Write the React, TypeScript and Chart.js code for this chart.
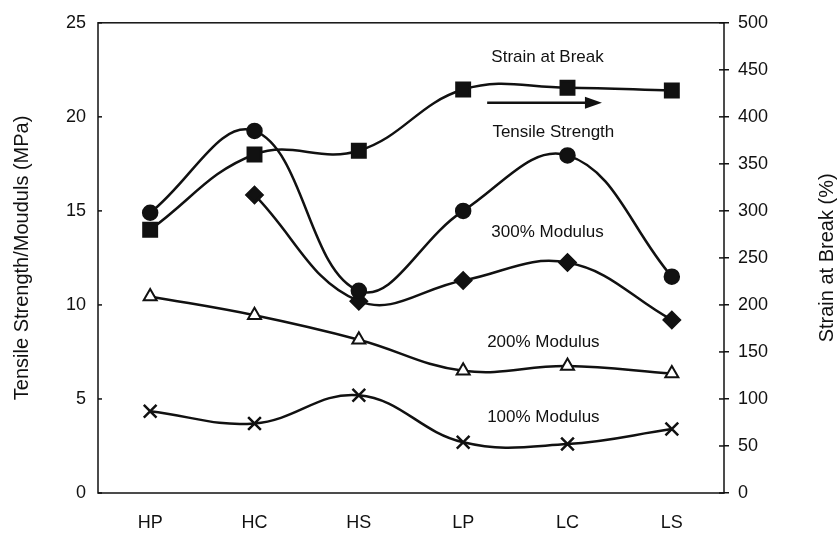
import React, { useEffect, useRef } from 'react';
import { Chart, registerables } from 'chart.js';

Chart.register(...registerables);

const categories = ['HP', 'HC', 'HS', 'LP', 'LC', 'LS'];
const tensileStrength = [14.9, 19.25, 10.75, 15.0, 17.95, 11.5];
const modulus300 = [null, 15.85, 10.2, 11.3, 12.25, 9.2];
const modulus200 = [10.45, 9.45, 8.15, 6.5, 6.75, 6.35];
const modulus100 = [4.35, 3.7, 5.2, 2.7, 2.6, 3.4];
const strainAtBreak = [280, 360, 364, 429, 431, 428];

const leftMin = 0;
const leftMax = 25;
const leftStep = 5;
const rightMin = 0;
const rightMax = 500;
const rightStep = 50;

const leftTitle = 'Tensile Strength/Mouduls (MPa)';
const rightTitle = 'Strain at Break (%)';

// annotation labels anchored to category index / left-axis value
const noteTexts = ['Strain at Break', 'Tensile Strength', '300% Modulus', '200% Modulus', '100% Modulus'];
const noteX = [3.27, 3.28, 3.27, 3.23, 3.23];
const noteY = [23.15, 19.2, 13.85, 8.0, 4.05];
// arrow anchored to category index / left-axis value
const arrowX = [3.23, 4.33];
const arrowY = 20.75;

const FONT = '"Liberation Sans", Arial, sans-serif';
const INK = '#111';

const overlay = {
  id: 'overlay',
  beforeDatasetsDraw(chart: any) {
    const { ctx, chartArea } = chart;
    ctx.save();
    ctx.strokeStyle = INK;
    ctx.lineWidth = 1.5;
    ctx.strokeRect(chartArea.left, chartArea.top, chartArea.right - chartArea.left, chartArea.bottom - chartArea.top);
    const y = chart.scales.y;
    y.ticks.forEach((t: any) => {
      const py = y.getPixelForValue(t.value);
      ctx.beginPath();
      ctx.moveTo(chartArea.left, py);
      ctx.lineTo(chartArea.left + 4, py);
      ctx.stroke();
    });
    const y1 = chart.scales.y1;
    y1.ticks.forEach((t: any) => {
      const py = y1.getPixelForValue(t.value);
      ctx.beginPath();
      ctx.moveTo(chartArea.right - 5, py);
      ctx.lineTo(chartArea.right, py);
      ctx.stroke();
    });
    ctx.restore();
  },
  afterDatasetsDraw(chart: any) {
    const { ctx, chartArea } = chart;
    const xs = chart.scales.x;
    const ys = chart.scales.y;
    ctx.save();
    ctx.fillStyle = INK;
    ctx.font = `17px ${FONT}`;
    ctx.textAlign = 'left';
    ctx.textBaseline = 'middle';
    noteTexts.forEach((t, i) => {
      ctx.fillText(t, xs.getPixelForValue(noteX[i]), ys.getPixelForValue(noteY[i]));
    });
    const ax0 = xs.getPixelForValue(arrowX[0]);
    const ax1 = xs.getPixelForValue(arrowX[1]);
    const ay = ys.getPixelForValue(arrowY);
    ctx.strokeStyle = INK;
    ctx.lineWidth = 2.5;
    ctx.beginPath();
    ctx.moveTo(ax0, ay);
    ctx.lineTo(ax1 - 14, ay);
    ctx.stroke();
    ctx.beginPath();
    ctx.moveTo(ax1, ay);
    ctx.lineTo(ax1 - 17, ay - 6);
    ctx.lineTo(ax1 - 17, ay + 6);
    ctx.closePath();
    ctx.fill();
    const cy = (chartArea.top + chartArea.bottom) / 2;
    ctx.font = `20px ${FONT}`;
    ctx.textAlign = 'center';
    ctx.textBaseline = 'middle';
    ctx.save();
    ctx.translate(22, cy);
    ctx.rotate(-Math.PI / 2);
    ctx.fillText(leftTitle, 0, 0);
    ctx.restore();
    ctx.save();
    ctx.translate(chart.width - 11, cy);
    ctx.rotate(-Math.PI / 2);
    ctx.fillText(rightTitle, 0, 0);
    ctx.restore();
    ctx.restore();
  },
};

export default function App() {
  const ref = useRef<HTMLCanvasElement | null>(null);
  useEffect(() => {
    if (!ref.current) return;
    const common = {
      borderColor: INK,
      borderWidth: 2.5,
      tension: 0.4,
      pointBorderColor: INK,
      pointBackgroundColor: INK,
      pointRadius: 7,
      pointHoverRadius: 7,
      fill: false,
    };
    const chart = new Chart(ref.current, {
      type: 'line',
      data: {
        labels: categories,
        datasets: [
          { ...common, label: 'Strain at Break', data: strainAtBreak, yAxisID: 'y1', pointStyle: 'rect', pointRadius: 9.5, pointHoverRadius: 9.5 },
          { ...common, label: 'Tensile Strength', data: tensileStrength, yAxisID: 'y', pointStyle: 'circle' },
          { ...common, label: '300% Modulus', data: modulus300, yAxisID: 'y', pointStyle: 'rectRot', pointRadius: 8, pointHoverRadius: 8 },
          { ...common, label: '200% Modulus', data: modulus200, yAxisID: 'y', pointStyle: 'triangle', pointBackgroundColor: '#fff', pointBorderWidth: 2, pointRadius: 7.5 },
          { ...common, label: '100% Modulus', data: modulus100, yAxisID: 'y', pointStyle: 'crossRot', pointBorderWidth: 2.5, pointRadius: 9, pointHoverRadius: 9 },
        ],
      },
      options: {
        animation: false,
        responsive: false,
        layout: { padding: { top: 15, left: 0, right: 0, bottom: 0 } },
        plugins: { legend: { display: false }, tooltip: { enabled: false } },
        scales: {
          x: {
            type: 'category',
            offset: true,
            grid: { display: false, drawTicks: false },
            border: { display: false },
            ticks: { color: INK, font: { family: FONT, size: 18 }, padding: 19 },
            afterFit: (s: any) => { s.height = 41; },
          },
          y: {
            position: 'left',
            min: leftMin,
            max: leftMax,
            ticks: { stepSize: leftStep, color: INK, font: { family: FONT, size: 18 }, padding: 12 },
            grid: { drawOnChartArea: false, drawTicks: false },
            border: { display: false },
            afterFit: (s: any) => { s.width = 98; },
          },
          y1: {
            position: 'right',
            min: rightMin,
            max: rightMax,
            ticks: { stepSize: rightStep, color: INK, font: { family: FONT, size: 18 }, padding: 9 },
            grid: { drawOnChartArea: false, drawTicks: true, tickLength: 5, color: INK, lineWidth: 1.5 },
            border: { display: false },
            afterFit: (s: any) => { s.width = 114; },
          },
        },
      },
      plugins: [overlay],
    });
    return () => chart.destroy();
  }, []);
  return (
    <div style={{ position: 'absolute', left: 0, top: 0, width: 838, height: 534, background: '#fff' }}>
      <canvas ref={ref} width={838} height={534} />
    </div>
  );
}
